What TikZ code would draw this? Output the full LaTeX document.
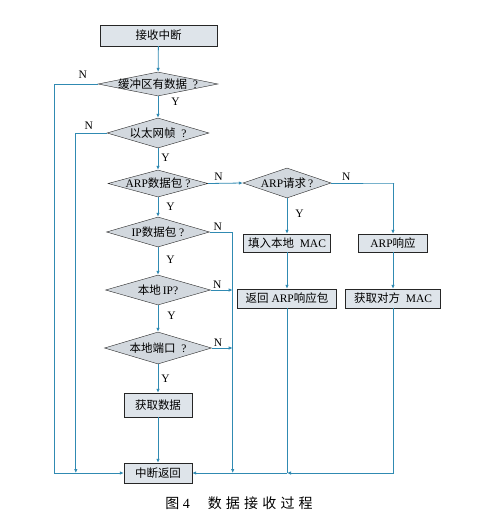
\documentclass[tikz,border=0pt]{standalone}
\usepackage{fontspec}
\setmainfont{Liberation Serif}
\newfontfamily\cjk{Noto Sans CJK SC}
\newfontfamily\capfont[LetterSpace=30]{Noto Sans CJK SC}
\usetikzlibrary{shapes.geometric, arrows.meta}

\definecolor{flowline}{RGB}{48,138,178}
\definecolor{boxfill}{RGB}{222,228,234}
\definecolor{decfill}{RGB}{210,216,222}

\begin{document}
\begin{tikzpicture}[x=1pt, y=-1pt,
    box/.style={draw=black!85, fill=boxfill, inner sep=0pt, minimum height=19pt, font=\fontsize{11.5}{12}\selectfont},
    decision/.style={diamond, draw=black!85, fill=decfill, inner sep=0pt, aspect=4, font=\fontsize{11.5}{12}\selectfont},
    flow/.style={draw=flowline, line width=0.8pt},
    arr/.style={flow, -{Latex[length=4pt, width=3.5pt]}},
    lbl/.style={font=\fontsize{11.5}{12}\selectfont, inner sep=1pt}]
    \useasboundingbox[fill=white] (0,0) rectangle (491,523);

    % main column
    \node[box, minimum width=117pt, minimum height=21pt] (start) at (158.5,35.5) {\cjk 接收中断};
    \node[decision, minimum width=120pt, minimum height=24pt] (buf) at (158,84) {\makebox[0pt]{{\cjk 缓冲区有数据}\ \ ?}};
    \node[decision, minimum width=102pt, minimum height=30pt] (eth) at (158,133) {\makebox[0pt]{{\cjk 以太网帧}\ \ ?}};
    \node[decision, minimum width=100pt, minimum height=27pt] (isarp) at (158,183.5) {\makebox[0pt]{ARP{\cjk 数据包}\ ?}};
    \node[decision, minimum width=103pt, minimum height=30pt] (isip) at (158,232) {\makebox[0pt]{IP{\cjk 数据包}\ ?}};
    \node[decision, minimum width=105pt, minimum height=30pt] (myip) at (158,290) {\makebox[0pt]{{\cjk 本地}\,IP?}};
    \node[decision, minimum width=107pt, minimum height=32pt] (myport) at (158,348) {\makebox[0pt]{{\cjk 本地端口}\ \ ?}};
    \node[box, minimum width=68pt, minimum height=24pt] (getdata) at (158,405) {\cjk 获取数据};
    \node[box, minimum width=68pt, minimum height=20pt] (ret) at (158,473) {\cjk 中断返回};

    % ARP branch
    \node[decision, minimum width=88pt, minimum height=30pt] (arpreq) at (287,183) {\makebox[0pt]{ARP{\cjk 请求}\,?}};
    \node[box, minimum width=87pt, minimum height=18pt] (fillmac) at (287,243) {{\cjk 填入本地}\ \ MAC};
    \node[box, minimum width=99pt] (sendback) at (287,298.5) {{\cjk 返回}\ ARP{\cjk 响应包}};
    \node[box, minimum width=69pt, minimum height=18pt] (arpresp) at (393,243) {ARP{\cjk 响应}};
    \node[box, minimum width=95pt] (peermac) at (393,298.5) {{\cjk 获取对方}\ \ MAC};

    \node[font=\fontsize{14}{15}\selectfont] (cap) at (239,503) {{\capfont 图}\ 4\hspace{18pt}{\capfont 数据接收过程}};

    \coordinate (joinback) at (sendback.south |- ret.east);

    % Y branches
    \draw[arr] (start) -- (buf);
    \draw[arr] (buf) -- node[lbl, pos=0.25, right=12pt] {Y} (eth);
    \draw[arr] (eth) -- node[lbl, pos=0.45, right=2pt] {Y} (isarp);
    \draw[arr] (isarp) -- node[lbl, pos=0.5, right=7pt] {Y} (isip);
    \draw[arr] (isip) -- node[lbl, pos=0.45, right=7pt] {Y} (myip);
    \draw[arr] (myip) -- node[lbl, pos=0.4, right=8pt] {Y} (myport);
    \draw[arr] (myport) -- node[lbl, pos=0.5, right=2pt] {Y} (getdata);
    \draw[arr] (getdata) -- (ret);
    \draw[arr] (arpreq) -- node[lbl, pos=0.45, right=7pt] {Y} (fillmac);
    \draw[arr] (fillmac) -- (sendback);
    \draw[arr] (arpresp) -- (peermac);

    % N branches
    \draw[arr] (buf.west) -- node[lbl, pos=0.35, above=4pt] {N} ++(-43,0) |- (ret.west);
    \draw[arr] (eth.west) -- node[lbl, pos=0.58, above=2pt] {N} ++(-31,0) coordinate (ethn) -- (ethn |- ret.west);
    \draw[arr] (isarp.east) -- node[lbl, pos=0.3, above=1pt] {N} (arpreq.west);
    \draw[arr] (arpreq.east) -- node[lbl, pos=0.24, above=1pt] {N} ++(63,0) -| (arpresp.north);
    \draw[arr] (isip.east) -- node[lbl, pos=0.35, above=0pt] {N} ++(23,0) coordinate (ipn) -- (ipn |- ret.west);
    \draw[arr] (myip.east) -- node[lbl, pos=0.3, above=0pt] {N} (ipn |- myip.east);
    \draw[arr] (myport.east) -- node[lbl, pos=0.3, above=0pt] {N} (ipn |- myport.east);

    % back to return
    \draw[flow] (sendback.south) -- (joinback);
    \draw[arr] (peermac.south) |- (joinback);
    \draw[arr] (joinback) -- (ret.east);
\end{tikzpicture}
\end{document}
